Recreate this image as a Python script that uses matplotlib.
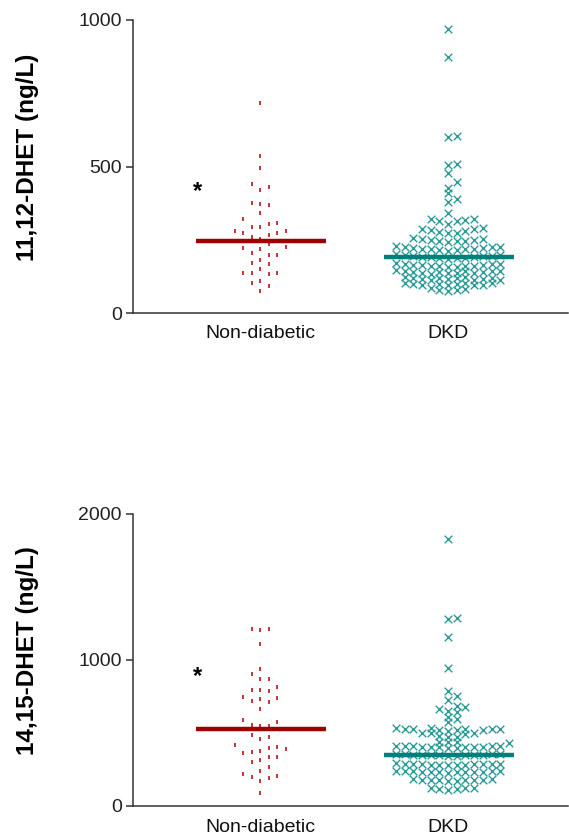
import numpy as np
import matplotlib
matplotlib.use("Agg")
import matplotlib.pyplot as plt

plt.rcParams['font.family'] = ['Liberation Sans', 'DejaVu Sans']

# ---------------- data ----------------
groups = ["Non-diabetic", "DKD"]

dhet1112_nondiabetic = [716, 537, 496, 439, 429, 420, 374, 372, 370, 340, 322, 308,
                        305, 295, 295, 281, 281, 272, 272, 267, 258, 254, 234, 226,
                        223, 217, 206, 198, 198, 181, 172, 166, 149, 135, 135, 133,
                        135, 109, 101, 92, 76]
dhet1112_dkd = [968, 873, 605, 600, 508, 506, 477, 446, 428, 408, 388, 380, 342,
                322, 320, 317, 315, 313, 304, 290, 287, 285, 283, 281, 276, 274,
                272, 256, 254, 251, 250, 248, 247, 246, 245, 244, 228, 226, 225,
                224, 222, 221, 220, 219, 218, 217, 216, 215, 213, 200, 198, 197,
                195, 194, 193, 192, 191, 190, 189, 188, 187, 185, 170, 168, 167,
                166, 165, 164, 163, 162, 161, 160, 159, 158, 157, 146, 145, 144,
                143, 142, 141, 140, 139, 138, 137, 136, 135, 134, 123, 122, 121,
                120, 119, 118, 117, 116, 115, 114, 113, 112, 103, 102, 101, 100,
                99, 98, 97, 96, 95, 94, 84, 82, 80, 78, 75]

dhet1415_nondiabetic = [1212, 1205, 1212, 1107, 936, 902, 870, 868, 817, 795, 795,
                        788, 749, 740, 731, 720, 712, 667, 589, 573, 553, 548, 548,
                        486, 475, 459, 418, 402, 395, 388, 377, 372, 361, 338, 333,
                        315, 301, 267, 242, 219, 208, 201, 189, 173, 87]
dhet1415_dkd = [1829, 1290, 1279, 1160, 947, 788, 756, 726, 685, 676, 661, 653, 646,
                612, 594, 573, 535, 532, 530, 528, 527, 525, 524, 522, 520, 518,
                515, 502, 500, 498, 495, 478, 473, 470, 440, 437, 435, 432, 412,
                411, 410, 409, 408, 407, 406, 405, 404, 403, 402, 400, 398, 356,
                355, 354, 353, 352, 351, 350, 349, 348, 347, 346, 344, 342, 292,
                291, 290, 289, 288, 287, 286, 285, 284, 283, 282, 280, 278, 241,
                240, 239, 238, 237, 236, 235, 234, 233, 232, 231, 230, 228, 183,
                182, 181, 180, 179, 178, 177, 176, 174, 172, 126, 123, 120, 118,
                115, 112]

dhet1112_centre = [246, 191]
dhet1415_centre = [527, 349]
star_values = [416, 884]
y_labels = ["11,12-DHET (ng/L)", "14,15-DHET (ng/L)"]
y_ticks_1112 = [0, 500, 1000]
y_ticks_1415 = [0, 1000, 2000]

# ---------------- styling ----------------
red_line = '#9e0000'
red_mark = '#c0222a'
teal_line = '#00807c'
teal_mark = '#2b9b98'
axis_col = '#333333'

fig = plt.figure(figsize=(5.69, 8.36), dpi=100)
ax_top = fig.add_axes([133/569, 1 - 313/836, 435/569, 293/836])
ax_bot = fig.add_axes([133/569, 1 - 806/836, 435/569, 292/836])


def swarm_x(ax, values, xc, step_px, min_dy_px):
    tr = ax.transData
    vals = np.asarray(values, float)
    ypx = tr.transform(np.column_stack([np.zeros(len(vals)), vals]))[:, 1]
    order = np.argsort(ypx, kind='stable')
    cand = [0]
    for k in range(1, 40):
        cand += [k, -k]
    cols = {}
    offs = np.zeros(len(vals))
    for i in order:
        for c in cand:
            if all(abs(ypx[i] - y) >= min_dy_px for y in cols.get(c, [])):
                cols.setdefault(c, []).append(ypx[i])
                offs[i] = c
                break
    x0 = tr.transform((0, 0))[0]
    x1 = tr.transform((1, 0))[0]
    return xc + offs * step_px / (x1 - x0)


def panel(ax, nd, dkd, centre, ymax, yticks, ylabel, star, dkd_gap):
    ax.set_xlim(-0.676, 1.638)
    ax.set_ylim(0, ymax)
    for s in ['top', 'right']:
        ax.spines[s].set_visible(False)
    for s in ['left', 'bottom']:
        ax.spines[s].set_color(axis_col)
        ax.spines[s].set_linewidth(1.1)
    ax.set_yticks(yticks)
    ax.set_xticks([0, 1])
    ax.set_xticklabels(groups)
    ax.tick_params(axis='y', length=5, width=1.1, color=axis_col, pad=3,
                   labelsize=14, labelcolor='#222222')
    ax.tick_params(axis='x', length=0, pad=9, labelsize=14, labelcolor='#111111')

    xs_nd = swarm_x(ax, nd, 0, 8.5, 9.0)
    xs_dk = swarm_x(ax, dkd, 1, 8.7, dkd_gap)
    ax.scatter(xs_nd, nd, marker='|', s=7, linewidths=1.3, color=red_mark, zorder=3)
    ax.scatter(xs_dk, dkd, marker='x', s=30, linewidths=1.0, color=teal_mark, zorder=3)
    ax.hlines(centre[0], -0.34, 0.35, color=red_line, linewidth=3.2, zorder=4)
    ax.hlines(centre[1], 1 - 0.34, 1.35, color=teal_line, linewidth=3.2, zorder=4)
    ax.text(-0.335, star, '*', fontsize=17, fontweight='bold', ha='center',
            va='center', color='black')
    ax.set_ylabel(ylabel, fontsize=17.5, fontweight='bold', color='black')
    ax.yaxis.set_label_coords(-0.215, 0.533)
    for sp in ax.spines.values():
        sp.set_clip_on(False)


panel(ax_top, dhet1112_nondiabetic, dhet1112_dkd, dhet1112_centre, 1000,
      y_ticks_1112, y_labels[0], star_values[0], 5.8)
panel(ax_bot, dhet1415_nondiabetic, dhet1415_dkd, dhet1415_centre, 2000,
      y_ticks_1415, y_labels[1], star_values[1], 5.0)

fig.savefig('out.png', dpi=100)
